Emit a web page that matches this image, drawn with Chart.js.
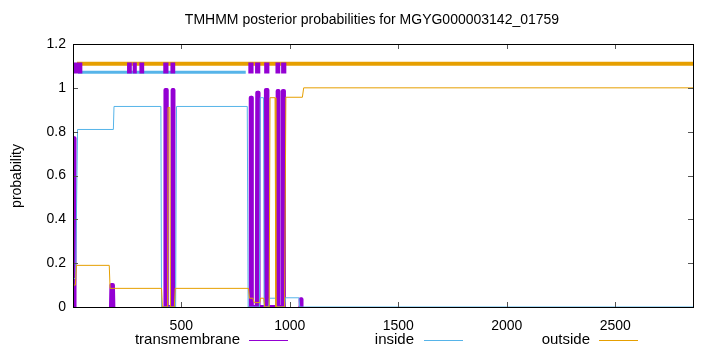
<!DOCTYPE html>
<html><head><meta charset="utf-8">
<script src="https://cdn.jsdelivr.net/npm/chart.js@4/dist/chart.umd.min.js"></script>
<style>html,body{margin:0;padding:0;background:#fff;} canvas{display:block;}</style>
</head><body>
<canvas id="c" width="720" height="352"></canvas>
<script>
const chartTitle = "TMHMM posterior probabilities for MGYG000003142_01759";
const yAxisTitle = "probability";
const seriesNames = ["transmembrane", "inside", "outside"];
const seqLength = 2858;
const xTicks = [500, 1000, 1500, 2000, 2500];
const yTicks = [0, 0.2, 0.4, 0.6, 0.8, 1, 1.2];

// posterior probability curves: [residue, probability], null = break
const transmembrane = [
  [1,0.77],[6,0.77],[8,0],[9,null],
  [176,0],[178,0.1],[185,0.1],[187,0],[188,null],
  [425,0],[427,0.99],[431,0.99],[433,0],[458,0],[460,0.99],[462,0.99],[464,0],[465,null],
  [818,0],[820,0.955],[823,0.955],[825,0],[848,0],[850,0.978],[854,0.978],[856,0],
  [888,0],[890,0.99],[895,0.99],[897,0],[942,0],[944,0.985],[946,0.985],[948,0],
  [966,0],[968,0.985],[971,0.985],[973,0],[974,null],
  [1048,0],[1050,0.035],[1052,0.035],[1054,0]
];
const inside = [
  [1,0.13],[13,0.13],[22,0.81],[187,0.81],[190,0.915],[406,0.915],[409,0],[474,0],[478,0.915],
  [804,0.915],[808,0],[860,0],[864,0.955],[879,0.955],[882,0],[903,0],[906,0.04],[935,0.04],[938,0],
  [976,0],[980,0.042],[1042,0.042],[1046,0],[2858,0]
];
const outside = [
  [1,0.10],[12,0.10],[17,0.19],[168,0.19],[172,0.085],[409,0.085],[413,0],[437,0],[439,0.91],[447,0.91],[450,0],
  [468,0],[472,0.085],[810,0.085],[814,0.04],[830,0.04],[836,0.02],[862,0.02],[865,0.04],[880,0.04],[884,0],
  [905,0],[909,0.955],[932,0.955],[936,0],[976,0],[982,0.957],[1058,0.957],[1064,1.0],[2858,1.0]
];
// predicted topology bar above the plot: [start, end] residue ranges
const topTransmembrane = [[1,44],[250,272],[276,295],[307,329],[417,441],[450,472],[809,833],[840,864],[882,906],[934,956],[960,984]];
const topInside = [[24,797]];
const topOutside = [[19,2858]];
const topLevels = {transmembrane: 1.09, inside: 1.071, outside: 1.11};

const colors = {transmembrane: "#9400D3", inside: "#56B4E9", outside: "#E69F00"};
const FONT = "Liberation Sans, Arial, Helvetica, sans-serif";

const toPts = arr => arr.map(p => ({x: p[0], y: p[1]}));
const rangesToPts = (ranges, level) => {
  const out = [];
  ranges.forEach((r, i) => {
    if (i > 0) out.push({x: r[0] - 0.5, y: null});
    out.push({x: r[0], y: level}, {x: r[1], y: level});
  });
  return out;
};

const base = {showLine: true, pointRadius: 0, fill: false, spanGaps: false, tension: 0};
const datasets = [
  Object.assign({}, base, {label: "tmTop", data: rangesToPts(topTransmembrane, topLevels.transmembrane), borderColor: colors.transmembrane, borderWidth: 11, borderCapStyle: "butt", order: 0}),
  Object.assign({}, base, {label: seriesNames[2], data: toPts(outside), borderColor: colors.outside, borderWidth: 1, order: 1}),
  Object.assign({}, base, {label: seriesNames[1], data: toPts(inside), borderColor: colors.inside, borderWidth: 1, order: 2}),
  Object.assign({}, base, {label: seriesNames[0], data: toPts(transmembrane), borderColor: colors.transmembrane, borderWidth: 4, borderJoinStyle: "round", borderCapStyle: "round", order: 3}),
  Object.assign({}, base, {label: "outTop", data: rangesToPts(topOutside, topLevels.outside), borderColor: colors.outside, borderWidth: 4, borderCapStyle: "butt", order: 4}),
  Object.assign({}, base, {label: "inTop", data: rangesToPts(topInside, topLevels.inside), borderColor: colors.inside, borderWidth: 3, borderCapStyle: "butt", order: 5})
];

const decor = {
  id: "decor",
  afterDatasetsDraw(chart) {
    const ctx = chart.ctx, a = chart.chartArea;
    const xs = chart.scales.x, ys = chart.scales.y;
    ctx.save();
    ctx.strokeStyle = "#555"; ctx.lineWidth = 1;
    ctx.beginPath();
    xTicks.forEach(v => {
      const px = Math.round(xs.getPixelForValue(v)) + 0.5;
      ctx.moveTo(px, a.bottom); ctx.lineTo(px, a.bottom - 5);
      ctx.moveTo(px, a.top); ctx.lineTo(px, a.top + 5);
    });
    yTicks.forEach(v => {
      const py = Math.round(ys.getPixelForValue(v)) + 0.5;
      ctx.moveTo(a.left, py); ctx.lineTo(a.left + 5, py);
      ctx.moveTo(a.right, py); ctx.lineTo(a.right - 5, py);
    });
    ctx.stroke();
    ctx.strokeStyle = "#000"; ctx.lineWidth = 1;
    ctx.strokeRect(Math.round(a.left) + 0.5, Math.round(a.top) + 0.5, Math.round(a.right - a.left), Math.round(a.bottom - a.top));
    ctx.fillStyle = "#000";
    ctx.font = "14px " + FONT;
    ctx.textAlign = "center"; ctx.textBaseline = "middle";
    ctx.fillText(chartTitle, 372, 20);
    ctx.save();
    ctx.translate(17, 176); ctx.rotate(-Math.PI / 2);
    ctx.fillText(yAxisTitle, 0, 0);
    ctx.restore();
    const items = [
      {name: seriesNames[0], c: colors.transmembrane, tx: 240, l0: 249, l1: 288},
      {name: seriesNames[1], c: colors.inside, tx: 414, l0: 424, l1: 463},
      {name: seriesNames[2], c: colors.outside, tx: 590, l0: 599, l1: 638}
    ];
    const ly = 340;
    ctx.font = "15px " + FONT;
    items.forEach(it => {
      ctx.fillStyle = "#000"; ctx.textAlign = "right"; ctx.textBaseline = "middle";
      ctx.fillText(it.name, it.tx, ly);
      ctx.strokeStyle = it.c; ctx.lineWidth = 1;
      ctx.beginPath(); ctx.moveTo(it.l0, ly + 0.5); ctx.lineTo(it.l1, ly + 0.5); ctx.stroke();
    });
    ctx.restore();
  }
};

new Chart(document.getElementById("c"), {
  type: "scatter",
  data: {datasets},
  options: {
    responsive: false, animation: false, devicePixelRatio: 1,
    layout: {padding: {left: 0, top: 44, right: 27, bottom: 0}},
    plugins: {legend: {display: false}, title: {display: false}, tooltip: {enabled: false}},
    scales: {
      x: {
        type: "linear", min: 1, max: seqLength,
        grid: {display: false, drawTicks: false}, border: {display: false},
        ticks: {color: "#000", font: {family: FONT, size: 14}, padding: 11, maxRotation: 0, callback: v => String(v)},
        afterBuildTicks: s => { s.ticks = xTicks.map(v => ({value: v})); },
        afterFit: s => { s.height = 45; }
      },
      y: {
        type: "linear", min: 0, max: 1.2,
        grid: {display: false, drawTicks: false}, border: {display: false},
        ticks: {color: "#000", font: {family: FONT, size: 14}, padding: 7, callback: v => String(Number(v.toFixed(1)))},
        afterBuildTicks: s => { s.ticks = yTicks.map(v => ({value: v})); },
        afterFit: s => { s.width = 73; }
      }
    }
  },
  plugins: [decor]
});
</script>
</body></html>
